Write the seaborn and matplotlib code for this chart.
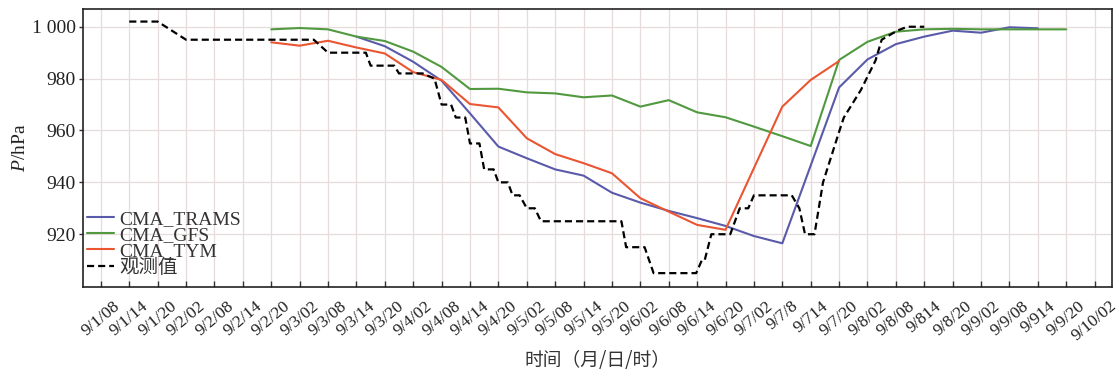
import matplotlib
matplotlib.use("Agg")
import matplotlib.pyplot as plt
import seaborn as sns
import pandas as pd

# ---- time axis (month/day/hour, 6-hourly) ----
time_labels = ["9/1/08", "9/1/14", "9/1/20", "9/2/02", "9/2/08", "9/2/14",
               "9/2/20", "9/3/02", "9/3/08", "9/3/14", "9/3/20", "9/4/02",
               "9/4/08", "9/4/14", "9/4/20", "9/5/02", "9/5/08", "9/5/14",
               "9/5/20", "9/6/02", "9/6/08", "9/6/14", "9/6/20", "9/7/02",
               "9/7/8", "9/714", "9/7/20", "9/8/02", "9/8/08", "9/814",
               "9/8/20", "9/9/02", "9/9/08", "9/914", "9/9/20", "9/10/02"]
step_hours = 6

# ---- model forecasts of central pressure (hPa), one value per 6 h ----
trams_start = "9/3/14"
trams_p = [996.2, 992.5, 986.5, 979.2, 966.6, 953.8, 949.3, 945.0, 942.6,
           936.0, 932.2, 929.0, 926.2, 923.2, 919.3, 916.5, 946.5, 976.6,
           987.4, 993.3, 996.2, 998.5, 997.7, 999.8, 999.4]

gfs_start = "9/2/20"
gfs_p = [999.0, 999.5, 999.0, 996.2, 994.5, 990.4, 984.5, 976.0, 976.1,
         974.7, 974.3, 972.8, 973.5, 969.2, 971.7, 967.0, 965.1, 961.5,
         957.8, 954.0, 987.2, 994.2, 998.1, 999.0, 999.2, 999.0, 999.0,
         999.0, 999.0]

tym_start = "9/2/20"
tym_p = [994.0, 992.7, 994.6, 992.0, 989.7, 982.5, 979.5, 970.2, 968.9,
         957.0, 950.9, 947.4, 943.5, 933.9, 928.7, 923.6, 921.7, 945.5,
         969.2, 979.5, 986.8]

# ---- observed pressure (hours after 9/1/08, hPa) ----
obs_hours = [6, 12, 18, 45, 48, 56, 57, 62, 63, 68, 70.5, 72, 74, 75, 77, 78,
             80, 81, 83, 84, 86, 87, 88.5, 90, 91.7, 93, 110, 111, 114.9,
             116.8, 125.8, 127, 127.6, 129, 133, 135, 136.8, 138, 146, 147.6,
             148.8, 150.8, 152.6, 156, 157, 160.6, 163.7, 165, 168.3, 170.4,
             174]
obs_p = [1002, 1002, 995, 995, 990, 990, 985, 985, 982, 982, 980, 970, 970,
         965, 965, 955, 955, 945, 945, 940, 940, 935, 935, 930, 930, 925, 925,
         915, 915, 905, 905, 910, 910, 920, 920, 930, 930, 935, 935, 930, 920,
         920, 940, 959.5, 965, 975.6, 987, 995, 998.5, 1000, 1000]

y_ticks = [920, 940, 960, 980, 1000]
y_tick_labels = ["920", "940", "960", "980", "1 000"]

series_names = ["CMA_TRAMS", "CMA_GFS", "CMA_TYM"]
series_colors = ["#5a5aaa", "#50993f", "#ea5532"]
obs_name = "观测值"


def to_frame(name, start, values):
    i0 = time_labels.index(start)
    hours = [(i0 + k) * step_hours for k in range(len(values))]
    return pd.DataFrame({"hour": hours, "p": values, "model": name})


df = pd.concat([to_frame(series_names[0], trams_start, trams_p),
                to_frame(series_names[1], gfs_start, gfs_p),
                to_frame(series_names[2], tym_start, tym_p)],
               ignore_index=True)

sns.set_theme(style="ticks")
plt.rcParams["font.family"] = ["Liberation Serif", "Noto Sans CJK SC"]
plt.rcParams["mathtext.fontset"] = "custom"
plt.rcParams["mathtext.rm"] = "Liberation Serif"
plt.rcParams["mathtext.it"] = "Liberation Serif:italic"

fig = plt.figure(figsize=(11.2, 3.75), dpi=100)
ax = fig.add_axes([0.074, 0.235, 0.919, 0.74])

for name, color in zip(series_names, series_colors):
    sub = df[df["model"] == name]
    sns.lineplot(data=sub, x="hour", y="p", color=color, lw=1.5,
                 label=name, ax=ax, sort=False, estimator=None)

sns.lineplot(x=obs_hours, y=obs_p, color="black", lw=1.6, ax=ax,
             label=obs_name, sort=False, estimator=None,
             linestyle=(0, (3.2, 1.8)))

tick_hours = [i * step_hours for i in range(len(time_labels))]
ax.set_xticks(tick_hours)
ax.set_xticklabels(time_labels, rotation=40, ha="center", va="top",
                   fontsize=12.5, color="#222222")
ax.set_yticks(y_ticks)
ax.set_yticklabels(y_tick_labels, fontsize=14, color="#222222")

ax.set_xlim(-3.8, 213.7)
ax.set_ylim(899.7, 1006.7)

ax.grid(True, color="#e6dcdc", lw=0.9)
ax.set_axisbelow(True)
ax.tick_params(axis="x", direction="in", length=4, width=1, pad=8,
               color="#333333")
ax.tick_params(axis="y", direction="out", length=3, width=1, pad=2,
               color="#333333")
for s in ax.spines.values():
    s.set_color("#222222")
    s.set_linewidth(1.2)

ax.set_ylabel("$P$/hPa", fontsize=14, color="#222222", labelpad=2)
ax.set_xlabel("时间（月/日/时）", fontsize=13.5,
              family=["Noto Sans CJK SC", "DejaVu Sans"], color="#333333",
              labelpad=4)

leg = ax.legend(loc="upper left", bbox_to_anchor=(0.004, 0.275),
                frameon=False, fontsize=14, handlelength=1.4,
                handletextpad=0.25, labelspacing=-0.08, borderpad=0,
                borderaxespad=0)
for t in leg.get_texts():
    t.set_color("#333333")

fig.savefig("out.png", dpi=100)
